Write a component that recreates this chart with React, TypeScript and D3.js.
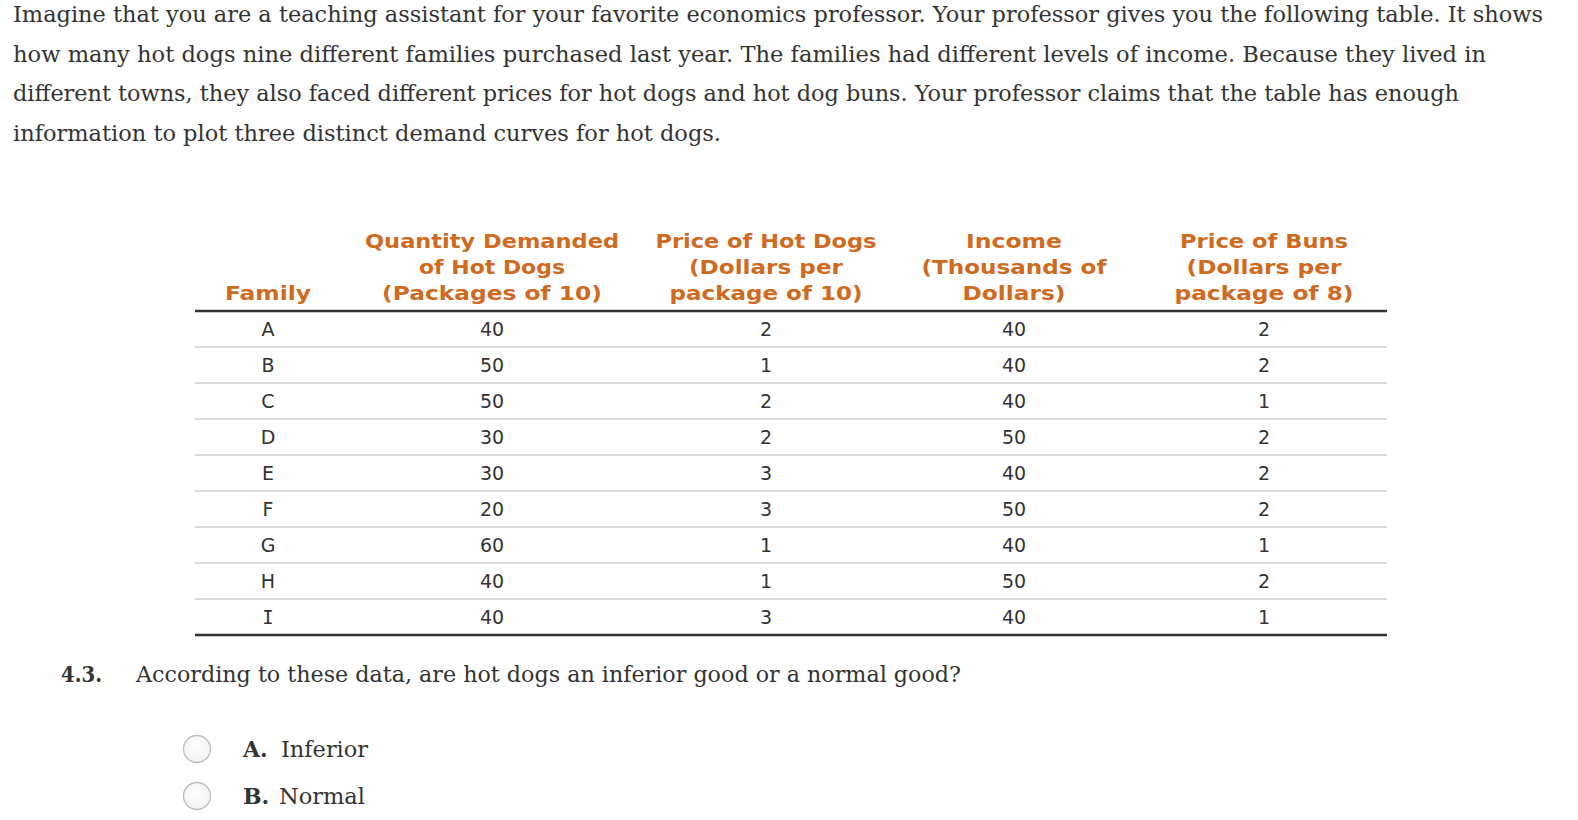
import React from "react";
import * as d3 from "d3";

const paragraphLines = [
  "Imagine that you are a teaching assistant for your favorite economics professor. Your professor gives you the following table. It shows",
  "how many hot dogs nine different families purchased last year. The families had different levels of income. Because they lived in",
  "different towns, they also faced different prices for hot dogs and hot dog buns. Your professor claims that the table has enough",
  "information to plot three distinct demand curves for hot dogs.",
];
const paragraphWidths = [1530, 1473, 1446, 708];

const columns = ["family", "qty", "price", "income", "buns"];
const headerLines: string[][] = [
  ["Family"],
  ["Quantity Demanded", "of Hot Dogs", "(Packages of 10)"],
  ["Price of Hot Dogs", "(Dollars per", "package of 10)"],
  ["Income", "(Thousands of", "Dollars)"],
  ["Price of Buns", "(Dollars per", "package of 8)"],
];
const headerWidths: number[][] = [
  [86],
  [254, 146, 220],
  [221, 154, 193],
  [96, 185, 103],
  [168, 155, 179],
];

const families = ["A", "B", "C", "D", "E", "F", "G", "H", "I"];
const quantity = [40, 50, 50, 30, 30, 20, 60, 40, 40];
const priceHotDogs = [2, 1, 2, 2, 3, 3, 1, 1, 3];
const income = [40, 40, 40, 50, 40, 50, 40, 50, 40];
const priceBuns = [2, 2, 1, 2, 2, 2, 1, 2, 1];

const questionNumber = "4.3.";
const questionText = "According to these data, are hot dogs an inferior good or a normal good?";
const optionLetters = ["A.", "B."];
const optionTexts = ["Inferior", "Normal"];

const W = 1578;
const H = 820;
const serif = "'DejaVu Serif', 'Liberation Serif', serif";
const sans = "'DejaVu Sans', Verdana, sans-serif";
const textColor = "#333";
const orange = "#cf6a1f";

export default function App() {
  const rowScale = d3.scaleBand<string>().domain(families).range([311, 635]);
  const colX = d3.scaleOrdinal<string, number>().domain(columns).range([268, 492, 766, 1014, 1264]);
  const headerY = d3.scalePoint<number>().domain([0, 1, 2]).range([248, 300]);
  const lineY = d3.scaleLinear().domain([0, 3]).range([22, 140.5]);
  const optionY = d3.scaleLinear().domain([0, 1]).range([749, 796]);

  const rows = families.map((f, i) => [f, quantity[i], priceHotDogs[i], income[i], priceBuns[i]]);

  return (
    <svg width={W} height={H} style={{ position: "absolute", left: 0, top: 0, background: "#fff" }}>
      <defs>
        <radialGradient id="radioGrad" cx="50%" cy="40%" r="60%">
          <stop offset="0%" stopColor="#ffffff" />
          <stop offset="100%" stopColor="#f2f2f2" />
        </radialGradient>
      </defs>
      {paragraphLines.map((t, i) => (
        <text
          key={i}
          x={13}
          y={lineY(i)}
          fontFamily={serif}
          fontSize={22}
          fill={textColor}
          textLength={paragraphWidths[i]}
          lengthAdjust="spacingAndGlyphs"
        >
          {t}
        </text>
      ))}

      {headerLines.map((lines, ci) => {
        const offset = 3 - lines.length;
        return lines.map((t, li) => (
          <text
            key={`${ci}-${li}`}
            x={colX(columns[ci])}
            y={headerY(li + offset)}
            textAnchor="middle"
            fontFamily={sans}
            fontWeight="bold"
            fontSize={19}
            fill={orange}
            textLength={headerWidths[ci][li]}
            lengthAdjust="spacingAndGlyphs"
          >
            {t}
          </text>
        ));
      })}

      {families.slice(0, -1).map((f) => (
        <line
          key={f}
          x1={195}
          x2={1387}
          y1={(rowScale(f) as number) + rowScale.bandwidth()}
          y2={(rowScale(f) as number) + rowScale.bandwidth()}
          stroke="#dcdcdc"
          strokeWidth={2}
        />
      ))}
      <line x1={195} x2={1387} y1={311} y2={311} stroke="#333" strokeWidth={2.5} />
      <line x1={195} x2={1387} y1={635} y2={635} stroke="#333" strokeWidth={2.5} />

      {rows.map((r, ri) =>
        r.map((v, ci) => (
          <text
            key={`${ri}-${ci}`}
            x={colX(columns[ci])}
            y={(rowScale(families[ri]) as number) + rowScale.bandwidth() / 2 + 7}
            textAnchor="middle"
            fontFamily={v === "I" ? "'DejaVu Sans Mono', monospace" : sans}
            fontSize={19}
            fill={textColor}
          >
            {String(v)}
          </text>
        ))
      )}

      <text x={61} y={682} fontFamily={serif} fontWeight="bold" fontSize={22} fill={textColor} textLength={41} lengthAdjust="spacingAndGlyphs">
        {questionNumber}
      </text>
      <text x={136} y={682} fontFamily={serif} fontSize={22} fill={textColor} textLength={825} lengthAdjust="spacingAndGlyphs">
        {questionText}
      </text>

      {optionLetters.map((l, i) => (
        <g key={l}>
          <circle cx={197} cy={optionY(i)} r={13.5} fill="url(#radioGrad)" stroke="#bdbdbd" strokeWidth={1.3} />
          <text x={243} y={optionY(i) + 8} fontFamily={serif} fontWeight="bold" fontSize={22} fill={textColor}>
            {l}
          </text>
          <text
            x={i === 0 ? 281 : 279}
            y={optionY(i) + 8}
            fontFamily={serif}
            fontSize={22.5}
            fill={textColor}
            textLength={i === 0 ? 87 : 86}
            lengthAdjust="spacingAndGlyphs"
          >
            {optionTexts[i]}
          </text>
        </g>
      ))}
    </svg>
  );
}
